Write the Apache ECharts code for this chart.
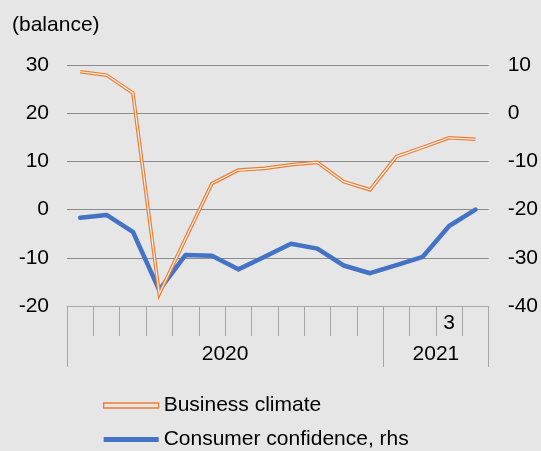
<!DOCTYPE html>
<html>
<head>
<meta charset="utf-8">
<script src="https://cdn.jsdelivr.net/npm/echarts@6/dist/echarts.min.js"></script>
<style>
html,body{margin:0;padding:0;background:#e6e6e6;}
#chart{width:541px;height:451px;}
</style>
</head>
<body>
<div id="chart"></div>
<script>
// Categories: Jan 2020 .. Apr 2021
var months = ['1','2','3','4','5','6','7','8','9','10','11','12','1','2','3','4'];
var yearLabels = ['2020','2021'];
var yearPositions = [6, 14];      // centre of each year's span (in months)
var yearBoundaries = [0, 12, 16]; // band boundaries between years
var businessClimate = [28.6, 27.9, 24.2, -17.5, -6.0, 5.4, 8.2, 8.55, 9.3, 9.8, 5.8, 4.1, 11.0, 12.9, 14.9, 14.6];
var consumerConfidence = [-21.7, -21.1, -24.6, -36.7, -29.4, -29.6, -32.4, -29.8, -27.1, -28.1, -31.6, -33.2, -31.5, -29.8, -23.4, -20.0];
var leftTicks = {min: -20, max: 30, interval: 10};
var rightTicks = {min: -40, max: 10, interval: 10};

var BG = '#e6e6e6';
var FONT = 'Liberation Sans, Arial, sans-serif';
var FS = 21;
var chart = echarts.init(document.getElementById('chart'), null, {renderer: 'canvas'});
chart.setOption({
  backgroundColor: BG,
  animation: false,
  textStyle: {fontFamily: FONT},
  title: {
    text: '(balance)', left: 7, top: 10,
    textStyle: {fontSize: FS, fontWeight: 'normal', color: '#000', fontFamily: FONT}
  },
  grid: {left: 67, right: 51, top: 65, bottom: 145, containLabel: false},
  legend: {
    orient: 'vertical', left: 103, top: 395, padding: 0,
    itemWidth: 55, itemHeight: 5, itemGap: 13,
    textStyle: {fontSize: FS, color: '#000', fontFamily: FONT, lineHeight: 21},
    data: [
      {name: 'Business climate', icon: 'rect', itemStyle: {color: BG, borderColor: '#ED7D31', borderWidth: 1.3}},
      {name: 'Consumer confidence, rhs', icon: 'rect', itemStyle: {color: '#4472C4', borderWidth: 0}}
    ]
  },
  xAxis: [
    {
      type: 'category', data: months, boundaryGap: true, position: 'bottom',
      axisLine: {show: true, onZero: false, lineStyle: {color: '#a6a6a6', width: 1}},
      axisTick: {show: true, interval: 0, length: 30, lineStyle: {color: '#a6a6a6'}},
      axisLabel: {
        interval: function (i) { return i === 14; },
        margin: 7, fontSize: FS, color: '#000', fontFamily: FONT
      },
      splitLine: {show: false}
    },
    {
      type: 'value', min: 0, max: 16, position: 'bottom', gridIndex: 0,
      axisLine: {show: false, onZero: false},
      axisTick: {show: true, length: 61, customValues: yearBoundaries, lineStyle: {color: '#a6a6a6'}},
      axisLabel: {
        customValues: yearPositions, margin: 38, fontSize: FS, color: '#000', fontFamily: FONT,
        formatter: function (v) { return yearLabels[yearPositions.indexOf(v)] || ''; }
      },
      splitLine: {show: false}
    }
  ],
  yAxis: [
    {
      type: 'value', min: leftTicks.min, max: leftTicks.max, interval: leftTicks.interval,
      axisLine: {show: false}, axisTick: {show: false},
      axisLabel: {margin: 18, fontSize: FS, color: '#000', fontFamily: FONT},
      splitLine: {show: true, lineStyle: {color: '#8c8c8c', width: 1}}
    },
    {
      type: 'value', min: rightTicks.min, max: rightTicks.max, interval: rightTicks.interval,
      position: 'right',
      axisLine: {show: false}, axisTick: {show: false},
      axisLabel: {margin: 19, fontSize: FS, color: '#000', fontFamily: FONT},
      splitLine: {show: false}
    }
  ],
  series: [
    {
      name: 'Consumer confidence, rhs', type: 'line', yAxisIndex: 1, xAxisIndex: 0,
      data: consumerConfidence, showSymbol: false, symbol: 'none',
      lineStyle: {color: '#4472C4', width: 4.5, join: 'round', cap: 'round'},
      itemStyle: {color: '#4472C4'}, z: 2
    },
    {
      name: 'Business climate', type: 'line', yAxisIndex: 0, xAxisIndex: 0,
      data: businessClimate, showSymbol: false, symbol: 'none',
      lineStyle: {color: '#ED7D31', width: 3.6, join: 'miter'},
      itemStyle: {color: '#ED7D31'}, z: 3
    },
    {
      name: 'Business climate inner', type: 'line', yAxisIndex: 0, xAxisIndex: 0,
      data: businessClimate, showSymbol: false, symbol: 'none', silent: true,
      lineStyle: {color: '#f2f2f2', width: 1.2, join: 'miter'},
      itemStyle: {color: '#f2f2f2'}, z: 4
    }
  ]
});
</script>
</body>
</html>
